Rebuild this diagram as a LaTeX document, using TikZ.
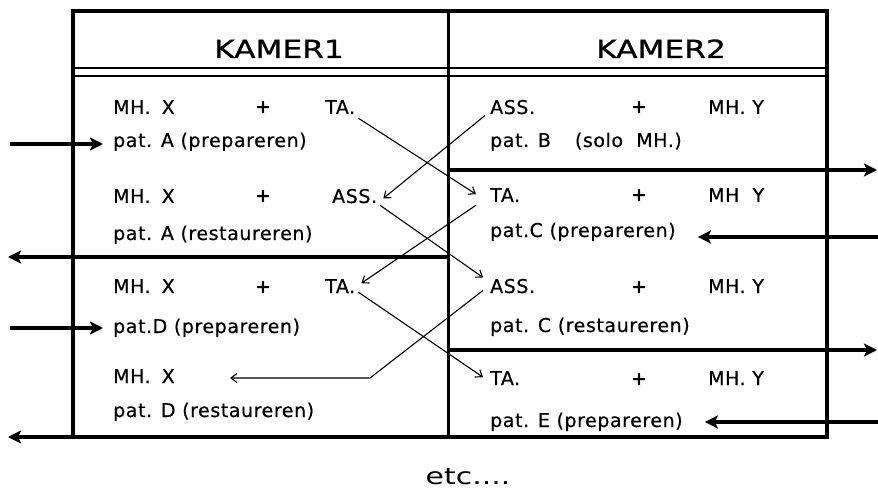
\documentclass[tikz,border=0pt]{standalone}
\usepackage{fontspec}
\setmainfont{DejaVu Sans}
\usetikzlibrary{arrows.meta,calc}

\tikzset{
  frame/.style={line width=3.5pt, line join=miter},
  divider/.style={line width=3pt},
  rule/.style={line width=2pt},
  head/.style={font=\fontsize{25}{28}\selectfont\addfontfeature{FakeStretch=1.25,FakeBold=1}, inner sep=0pt, anchor=base},
  txt/.style={font=\fontsize{19}{22}\selectfont\addfontfeature{LetterSpace=3,FakeBold=0.5}, inner sep=0pt, anchor=base west},
  plus/.style={font=\fontsize{19}{22}\selectfont\bfseries, inner sep=0pt, anchor=base},
  flow/.style={line width=4.5pt, -{Stealth[length=13pt,width=13pt,inset=3pt]}},
  swap/.style={line width=1.1pt, -{Straight Barb[length=6pt,width=9pt]}},
}
\newcommand{\mhx}{MH.\hspace{11pt}X}

\begin{document}
\begin{tikzpicture}[x=1pt,y=-1pt]
\useasboundingbox (0,0) rectangle (878,489);

% frame, column divider and header rules
\coordinate (divT) at (448,11);
\coordinate (divB) at (448,437);
\draw[frame] (73,11) rectangle (827,437);
\draw[divider] (divT) -- (divB);
\draw[rule] (73,68) -- (827,68);
\draw[rule] (73,76) -- (827,76);

% column headers
\node[head] (k1) at (279,58) {KAMER1};
\node[head] (k2) at (661,58) {KAMER2};

% room 1
\node[txt]  (l1a) at (113,114) {\mhx};
\node[plus] (l1p) at (263,114) {+};
\node[txt]  (l1t) at (325,114) {TA.};
\node[txt]  (l1b) at (113,147) {pat. A (prepareren)};

\node[txt]  (l2a) at (113,203) {\mhx};
\node[plus] (l2p) at (263,203) {+};
\node[txt]  (l2s) at (332,203) {ASS.};
\node[txt]  (l2b) at (113,240) {pat. A (restaureren)};

\node[txt]  (l3a) at (113,293) {\mhx};
\node[plus] (l3p) at (263,293) {+};
\node[txt]  (l3t) at (325,293) {TA.};
\node[txt]  (l3b) at (113,333) {pat.D (prepareren)};

\node[txt]  (l4a) at (113,383) {\mhx};
\node[txt]  (l4b) at (113,417) {pat. D (restaureren)};

% room 2
\node[txt]  (r1s) at (490,114) {ASS.};
\node[plus] (r1p) at (639,114) {+};
\node[txt]  (r1m) at (708,114) {MH. Y};
\node[txt]  (r1b) at (490,147) {pat. B\hspace{24pt}(solo\ \ MH.)};

\node[txt]  (r2t) at (490,202) {TA.};
\node[plus] (r2p) at (639,202) {+};
\node[txt]  (r2m) at (708,202) {MH\ \ Y};
\node[txt]  (r2b) at (490,237) {pat.C (prepareren)};

\node[txt]  (r3s) at (490,293) {ASS.};
\node[plus] (r3p) at (639,293) {+};
\node[txt]  (r3m) at (708,293) {MH. Y};
\node[txt]  (r3b) at (490,332) {pat. C (restaureren)};

\node[txt]  (r4t) at (490,385) {TA.};
\node[plus] (r4p) at (639,385) {+};
\node[txt]  (r4m) at (708,385) {MH. Y};
\node[txt]  (r4b) at (490,427) {pat. E (prepareren)};

\node[font=\fontsize{23}{26}\selectfont\addfontfeature{FakeStretch=1.3}, inner sep=0pt, anchor=base] (etc) at (468,484) {etc....};

% patients coming in and going out
\coordinate (inA)  at (10,144);
\coordinate (inD)  at (10,328);
\coordinate (outA) at (8,257);
\coordinate (outD) at (8,437);
\coordinate (outB) at (877,170);
\coordinate (outC) at (877,350);
\coordinate (inC)  at (878,237);
\coordinate (inE)  at (878,422);

\draw[flow] (inA) -- ($(inA -| l1b.west)+(-10,0)$);
\draw[flow] (inD) -- ($(inD -| l3b.west)+(-10,0)$);
\draw[flow] (divT |- outA) -- (outA);
\draw[flow] (divB -| 73,0) -- (outD);
\draw[flow] (divT |- outB) -- (outB);
\draw[flow] (divT |- outC) -- (outC);
\draw[flow] (inC) -- ($(inC -| r2b.east)+(22,0)$);
\draw[flow] (inE) -- ($(inE -| r4b.east)+(22,0)$);

% staff moving between the rooms
\coordinate (bend) at (370,378);
\coordinate (mxtip) at (230,378);
\draw[swap] ([shift={(3,4)}]l1t.south east) -- ([shift={(-14,-8)}]r2t.south west);
\draw[swap] ([shift={(-5,1)}]r1s.south west) -- ([shift={(6,-5)}]l2s.south east);
\draw[swap] ([shift={(3,2)}]l2s.south east) -- ([shift={(-7,-16)}]r3s.south west);
\draw[swap] ([shift={(-14,3)}]r2t.south west) -- ([shift={(6,-10)}]l3t.south east);
\draw[swap] ([shift={(3,-1)}]l3t.south east) -- ([shift={(-7,-8)}]r4t.south west);
\draw[swap] ([shift={(-7,-3)}]r3s.south west) -- (bend) -- (mxtip);
\end{tikzpicture}
\end{document}
